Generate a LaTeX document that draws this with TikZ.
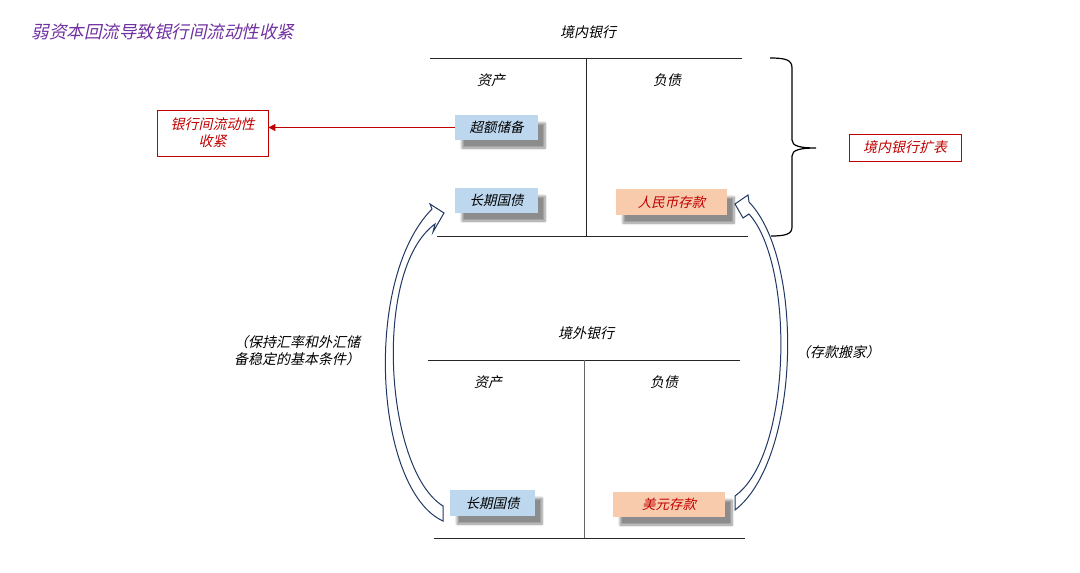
\documentclass[tikz,border=0pt]{standalone}
\usepackage{fontspec}
\setmainfont{Noto Sans CJK SC}[FakeSlant=0.22]
\usetikzlibrary{shadows.blur,arrows.meta}
\definecolor{titlepurple}{HTML}{7030A0}
\definecolor{keyred}{HTML}{C00000}
\definecolor{assetblue}{HTML}{BDD7EE}
\definecolor{debtpeach}{HTML}{F8CBAD}
\definecolor{arrownavy}{HTML}{1F3864}

\begin{document}
\begin{tikzpicture}[x=1pt,y=-1pt,
    txt/.style={font=\fontsize{14}{17}\selectfont},
    item/.style={font=\fontsize{13.5}{16}\selectfont,minimum height=25pt,inner sep=0pt,
      blur shadow={shadow xshift=7pt,shadow yshift=-8pt,shadow blur steps=8,shadow opacity=45}},
    redbox/.style={txt,draw=keyred,text=keyred,line width=0.9pt,inner sep=0pt,align=center},
    tline/.style={line width=1pt,black!85},
    bigarrow/.style={draw=arrownavy,line width=1pt,fill=white,line join=miter}]
  \useasboundingbox (0,0) rectangle (1080,573);

  % title
  \node[anchor=west,text=titlepurple,font=\fontsize{17.5}{20}\selectfont] (title) at (28,32) {弱资本回流导致银行间流动性收紧};

  % domestic bank
  \node[txt] (dombank) at (588,32) {境内银行};
  \draw[tline] (430,58) -- (742,58);
  \draw[tline] (586,58) -- (586,236);
  \draw[tline] (437,236) -- (748,236);
  \node[txt] (domasset) at (491,80) {资产};
  \node[txt] (domdebt) at (667,80) {负债};
  \node[item,fill=assetblue,minimum width=83pt] (reserve) at (496.5,127.5) {超额储备};
  \node[item,fill=assetblue,minimum width=83pt] (dombond) at (496.5,200.5) {长期国债};
  \node[item,fill=debtpeach,text=keyred,minimum width=111pt,minimum height=26pt] (rmbdep) at (671.5,202) {人民币存款};

  % liquidity box
  \node[redbox,minimum width=111pt,minimum height=46pt] (tight) at (212.5,133) {银行间流动性\\收紧};
  \draw[-{Triangle[length=7pt,width=7pt]},keyred,line width=1pt] (reserve.west) -- (reserve.west -| tight.east);

  % brace and expansion box
  \draw[line width=1.2pt,black] (770,58) .. controls (786,58) and (792,60) .. (792,68) -- (792,140)
    .. controls (792,146) and (800,148) .. (816,148) .. controls (800,148) and (792,150) .. (792,156)
    -- (792,227) .. controls (792,234) and (786,236) .. (771,236);
  \node[redbox,minimum width=112pt,minimum height=27pt] (expand) at (905,147.5) {境内银行扩表};

  % foreign bank
  \node[txt] (forbank) at (586,333) {境外银行};
  \draw[tline] (428,360) -- (740,360);
  \draw[tline,black!60] (584,360) -- (584,538);
  \draw[tline] (434,538) -- (745,538);
  \node[txt] (forasset) at (488,382) {资产};
  \node[txt] (fordebt) at (664,382) {负债};
  \node[item,fill=assetblue,minimum width=85pt,minimum height=26pt] (forbond) at (492.5,503) {长期国债};
  \node[item,fill=debtpeach,text=keyred,minimum width=112pt] (usddep) at (669,504.5) {美元存款};

  % curved arrows
  \draw[bigarrow] (443,506) .. controls (385,470) and (372,270) .. (435,224) -- (433,232) -- (444,213)
    -- (430,204) -- (432,209) .. controls (362,280) and (375,490) .. (443,521) -- cycle;
  \draw[bigarrow] (735,496) .. controls (792,455) and (795,265) .. (749,214) -- (743,218) -- (735,204)
    -- (748,195) -- (749,202) .. controls (805,260) and (800,460) .. (735,510) -- cycle;

  \node[txt,align=center] (cond) at (297,351) {（保持汇率和外汇储\\备稳定的基本条件）};
  \node[txt] (move) at (838,352) {（存款搬家）};
\end{tikzpicture}
\end{document}
